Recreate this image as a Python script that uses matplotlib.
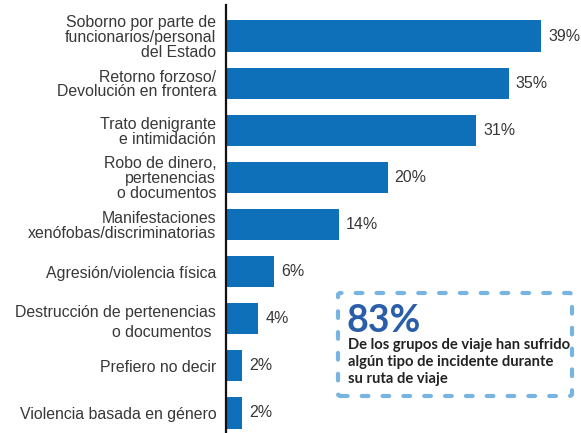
import matplotlib.pyplot as plt
from matplotlib.patches import FancyBboxPatch

# Incident categories and share of travel groups (%)
categories = [
    "Soborno por parte de\nfuncionarios/personal\ndel Estado",
    "Retorno forzoso/\nDevolución en frontera",
    "Trato denigrante\ne intimidación",
    "Robo de dinero,\npertenencias\no documentos",
    "Manifestaciones\nxenófobas/discriminatorias",
    "Agresión/violencia física",
    "Destrucción de pertenencias\no documentos ",
    "Prefiero no decir",
    "Violencia basada en género",
]
values = [39, 35, 31, 20, 14, 6, 4, 2, 2]
headline = "83%"
note = "De los grupos de viaje han sufrido\nalgún tipo de incidente durante\nsu ruta de viaje"

bar_color = "#0e70b8"
text_color = "#383838"

fig = plt.figure(figsize=(5.81, 4.33), dpi=100)
ax = fig.add_axes([226 / 581, 0, 1 - 226 / 581, 428 / 433])

pos = list(range(len(values)))
ax.barh(pos, values, height=0.66, color=bar_color)
ax.set_ylim(8.425, -0.658)
ax.set_xlim(0, 355 / 8.08)

for p, v in zip(pos, values):
    ax.text(v + 0.85, p, f"{v}%", va="center", ha="left",
            fontsize=11.5, color=text_color, family="Liberation Sans")

ax.set_yticks(pos)
labels = ax.set_yticklabels(categories, fontsize=11.4, color=text_color,
                            family="Liberation Sans", linespacing=0.98)
labels[6].set_linespacing(1.4)
ax.tick_params(axis="y", length=0, pad=7)
ax.set_xticks([])
for side in ["top", "right", "bottom"]:
    ax.spines[side].set_visible(False)
ax.spines["left"].set_linewidth(1.6)
ax.spines["left"].set_color("#111111")

# Summary callout with dashed border
box = FancyBboxPatch((338 / 581, 1 - 396 / 433), 234 / 581, 103 / 433,
                     boxstyle="round,pad=0,rounding_size=0.005",
                     transform=fig.transFigure, fill=False,
                     edgecolor="#78b4e2", linewidth=3,
                     linestyle=(0, (1.6, 3.4)), capstyle="round")
fig.patches.append(box)
fig.text(347 / 581, 1 - 321 / 433, headline, fontsize=27, fontweight="bold",
         color="#2a5ea8", family="Lato", va="center", ha="left")
fig.text(348 / 581, 1 - 362 / 433, note, fontsize=10.6, fontweight="bold",
         color="#222222", family="Lato", va="center", ha="left",
         linespacing=1.28)

fig.savefig("out.png", dpi=100)
